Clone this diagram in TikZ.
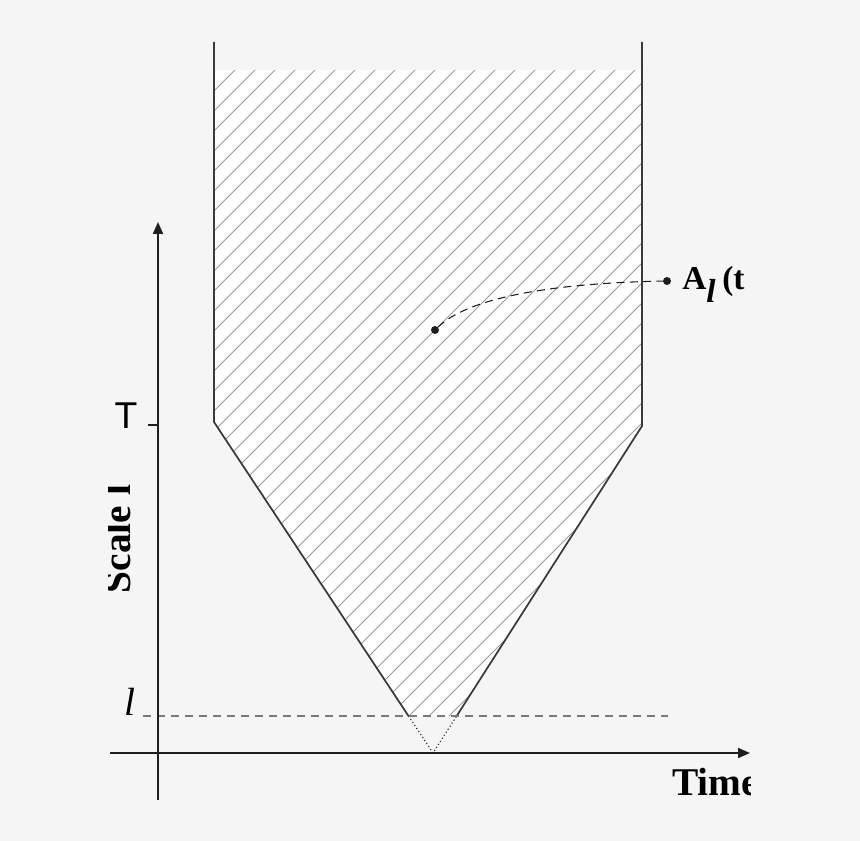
\documentclass[tikz,border=0pt]{standalone}
\usepackage{fontspec}
\setmainfont{Liberation Serif}
\newfontfamily\sansf{Liberation Sans}
\usetikzlibrary{arrows.meta,calc}
\definecolor{bg}{HTML}{F5F5F5}
\definecolor{axisc}{HTML}{1E1E1E}
\definecolor{wallc}{HTML}{3A3A3A}
\definecolor{hatchc}{HTML}{9A9A9A}
\definecolor{dashc}{HTML}{7A7A7A}
\tikzset{
  axisline/.style={draw=axisc,line width=1.5pt,-{Triangle[length=9pt,width=7.5pt]}},
  wall/.style={draw=wallc,line width=1.3pt},
  hatchline/.style={draw=hatchc,line width=0.6pt},
  levelline/.style={draw=dashc,line width=1.1pt,dash pattern=on 6pt off 4.5pt},
  dotline/.style={draw=wallc,line width=0.9pt,dash pattern=on 0.9pt off 1.8pt},
  pathline/.style={draw=axisc,line width=0.8pt,dash pattern=on 6pt off 4pt},
  bigbold/.style={font=\fontsize{29.5}{30}\selectfont\bfseries,inner sep=0pt},
  dotmark/.style={circle,fill=axisc,inner sep=0pt,minimum size=6pt}
}
\begin{document}
\begin{tikzpicture}[x=0.75pt,y=-0.75pt]
\fill[bg] (0,0) rectangle (860,841);
\useasboundingbox (0,0) rectangle (860,841);
% key points
\coordinate (LT) at (214,422);
\coordinate (RT) at (642,426);
\coordinate (LTop) at (214,42);
\coordinate (RTop) at (642,42);
\coordinate (apex) at (433,753);
\coordinate (LL) at ($(LT)!294/331!(apex)$);
\coordinate (RL) at ($(RT)!290/327!(apex)$);
% white hatched region
\fill[white] (215,70) -- (641,70) -- (641,426) -- (RL) -- (LL) -- (215,422) -- cycle;
\begin{scope}
  \clip (215,70) -- (641,70) -- (641,426) -- (RL) -- (LL) -- (215,422) -- cycle;
  \foreach \c in {285,305,...,1185} {
    \draw[hatchline] (\c-820,820) -- (\c,0);
  }
\end{scope}
% walls
\draw[wall] (LTop) -- (LT) -- (LL);
\draw[wall] (RTop) -- (RT) -- (RL);
\draw[dotline] (LL) -- (apex) -- (RL);
% level line l
\coordinate (lvA) at (143,716);
\coordinate (lvB) at (668,716);
\draw[levelline] (lvA) -- (lvB);
% axes
\coordinate (yb) at (158,800);
\coordinate (yt) at (158,222);
\coordinate (xb) at (110,753);
\coordinate (xt) at (750,753);
\draw[axisline] (yb) -- (yt);
\draw[axisline] (xb) -- (xt);
% tick T
\coordinate (tk1) at (148,425);
\coordinate (tk2) at (158,425);
\draw[draw=axisc,line width=0.8pt] (tk1) -- (tk2);
\node[font=\sansf\fontsize{28}{28}\selectfont,inner sep=0pt] (Tlab) at (126,416) {T};
\node[font=\fontsize{29.5}{30}\selectfont\itshape,inner sep=0pt,anchor=base] (llab) at (130,715) {l};
% point and label
\node[dotmark] (pin) at (435,330) {};
\node[dotmark] (pout) at (667,281) {};
\draw[pathline] (pin) .. controls (470,296) and (560,283) .. (pout);
\begin{scope}
  \clip (108,0) rectangle (750,841);
  \node[font=\fontsize{25}{25}\selectfont\bfseries,inner sep=0pt,anchor=base west] (Alab) at (682,290) {A\raisebox{-9.5pt}{\itshape l}\kern5pt(t};
  \node[bigbold,anchor=base west] (timelab) at (672,795) {Time};
  \node[bigbold,rotate=90,anchor=base] (scalelab) at (130,539) {Scale l};
\end{scope}
\end{tikzpicture}
\end{document}
